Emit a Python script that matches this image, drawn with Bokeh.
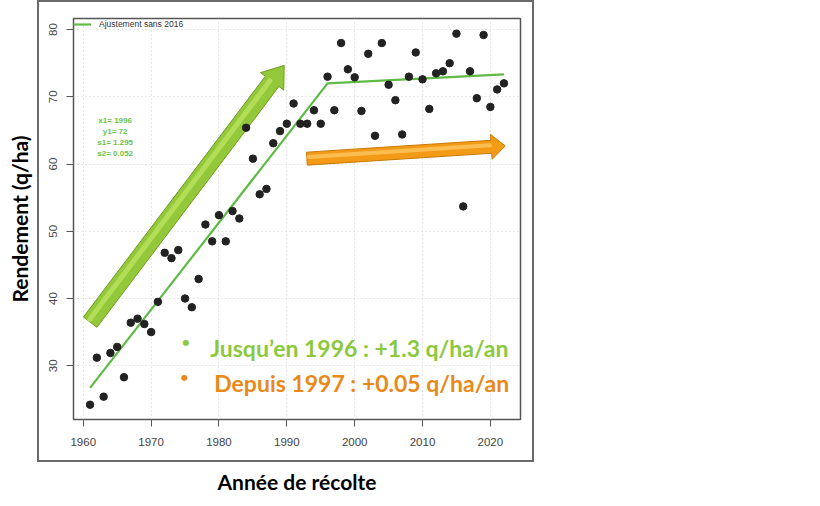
import math

from bokeh.embed import file_html
from bokeh.models import FixedTicker, InlineStyleSheet, Label, Legend, LegendItem
from bokeh.plotting import figure
from bokeh.resources import INLINE

# rendement annuel (q/ha) par année de récolte
years = [1961, 1962, 1963, 1964, 1965, 1966, 1967, 1968, 1969, 1970,
         1971, 1972, 1973, 1974, 1975, 1976, 1977, 1978, 1979, 1980,
         1981, 1982, 1983, 1984, 1985, 1986, 1987, 1988, 1989, 1990,
         1991, 1992, 1993, 1994, 1995, 1996, 1997, 1998, 1999, 2000,
         2001, 2002, 2003, 2004, 2005, 2006, 2007, 2008, 2009, 2010,
         2011, 2012, 2013, 2014, 2015, 2016, 2017, 2018, 2019, 2020,
         2021, 2022]
yields = [24.2, 31.2, 25.4, 31.9, 32.8, 28.3, 36.4, 37.0, 36.2, 35.0,
          39.5, 46.8, 46.0, 47.2, 40.0, 38.7, 42.9, 51.0, 48.5, 52.4,
          48.5, 53.0, 51.9, 65.4, 60.8, 55.5, 56.3, 63.1, 64.9, 66.0,
          69.0, 66.0, 66.0, 68.0, 66.0, 73.0, 68.0, 78.0, 74.1, 72.9,
          67.9, 76.4, 64.2, 78.0, 71.8, 69.5, 64.4, 73.0, 76.6, 72.6,
          68.2, 73.5, 73.8, 75.0, 79.4, 53.7, 73.8, 69.8, 79.2, 68.5,
          71.1, 72.0]

# ajustement segmenté (sans 2016)
fit_years = [1961, 1996, 2022]
fit_yields = [26.7, 72.0, 73.35]
fit_params = ["x1= 1996", "y1= 72", "s1= 1.295", "s2= 0.052"]

x_ticks = [1960, 1970, 1980, 1990, 2000, 2010, 2020]
y_ticks = [30, 40, 50, 60, 70, 80]

X0, X1 = 1958.56, 2024.44
Y0, Y1 = 22.0, 81.65
FW, FH = 447, 401
KX = FW / (X1 - X0)
KY = FH / (Y1 - Y0)

# cadre extérieur autour du graphique (calque CSS)
frame_css = InlineStyleSheet(css="""
:host::after {
  content: "";
  position: absolute;
  left: 36.5px;
  top: 0px;
  width: 497px;
  height: 462px;
  box-sizing: border-box;
  border: 2px solid #6a6a6a;
  pointer-events: none;
}
""")

p = figure(frame_width=FW, frame_height=FH, x_range=(X0, X1), y_range=(Y0, Y1),
           min_border_left=73, min_border_top=18, min_border_right=300,
           min_border_bottom=87, output_backend="svg", toolbar_location=None,
           stylesheets=[frame_css])

p.outline_line_color = "#555555"
p.outline_line_width = 1.5
p.background_fill_color = "white"
p.border_fill_color = "white"

for ax in (p.xaxis[0], p.yaxis[0]):
    ax.axis_line_color = None
    ax.major_tick_out = 7
    ax.major_tick_in = 0
    ax.minor_tick_line_color = None
    ax.major_tick_line_color = "#555555"
    ax.major_label_text_font = "Liberation Sans"
    ax.major_label_text_font_size = "11.5px"
    ax.major_label_text_color = "#444444"
    ax.axis_label_text_font = "Lato"
    ax.axis_label_text_font_style = "bold"
    ax.axis_label_text_font_size = "21px"
    ax.axis_label_text_color = "black"

p.xaxis.ticker = FixedTicker(ticks=x_ticks)
p.yaxis.ticker = FixedTicker(ticks=y_ticks)
p.yaxis.major_label_orientation = "vertical"
p.xaxis.major_label_standoff = 11
p.yaxis.major_label_standoff = 9
p.xaxis.axis_label = "Année de récolte"
p.yaxis.axis_label = "Rendement (q/ha)"
p.xaxis.axis_label_standoff = 20
p.yaxis.axis_label_standoff = 15

p.grid.grid_line_color = "#d0d0d0"
p.grid.grid_line_dash = "1 3"
p.grid.grid_line_width = 1


def arrow_poly(xa, ya, xb, yb, shaft, head_w, head_len):
    ax_, ay_ = (xa - X0) * KX, (ya - Y0) * KY
    bx_, by_ = (xb - X0) * KX, (yb - Y0) * KY
    L = math.hypot(bx_ - ax_, by_ - ay_)
    ux, uy = (bx_ - ax_) / L, (by_ - ay_) / L
    nx, ny = -uy, ux
    cx, cy = bx_ - ux * head_len, by_ - uy * head_len
    pts = [
        (ax_ + nx * shaft / 2, ay_ + ny * shaft / 2),
        (cx + nx * shaft / 2, cy + ny * shaft / 2),
        (cx + nx * head_w / 2, cy + ny * head_w / 2),
        (bx_, by_),
        (cx - nx * head_w / 2, cy - ny * head_w / 2),
        (cx - nx * shaft / 2, cy - ny * shaft / 2),
        (ax_ - nx * shaft / 2, ay_ - ny * shaft / 2),
    ]
    xs = [X0 + px / KX for px, _ in pts]
    ys = [Y0 + py / KY for _, py in pts]
    return xs, ys


def shaft_line(xa, ya, xb, yb, head_len, off):
    ax_, ay_ = (xa - X0) * KX, (ya - Y0) * KY
    bx_, by_ = (xb - X0) * KX, (yb - Y0) * KY
    L = math.hypot(bx_ - ax_, by_ - ay_)
    ux, uy = (bx_ - ax_) / L, (by_ - ay_) / L
    nx, ny = -uy, ux
    sx, sy = ax_ + nx * off + ux * 2, ay_ + ny * off + uy * 2
    ex, ey = bx_ - ux * (head_len + 1) + nx * off, by_ - uy * (head_len + 1) + ny * off
    return [X0 + sx / KX, X0 + ex / KX], [Y0 + sy / KY, Y0 + ey / KY]


# flèches décoratives
arrows = [
    ((1961.02, 36.48, 1989.61, 74.67), 17, 29, 20, "#92c83a", "#6f9a1e", "#b2dd57"),
    ((1992.96, 60.80, 2022.19, 62.70), 13, 25, 14, "#f39b17", "#c97a06", "#fbbd50"),
]
for (xa, ya, xb, yb), sw, hw, hl, fill, edge, light in arrows:
    xs, ys = arrow_poly(xa, ya, xb, yb, sw, hw, hl)
    p.patch(xs, ys, fill_color=fill, line_color=edge, line_width=1)
    lx, ly = shaft_line(xa, ya, xb, yb, hl, sw * 0.12)
    p.line(lx, ly, line_color=light, line_width=sw * 0.3, line_cap="round")

fit = p.line(fit_years, fit_yields, line_color="#5fbb46", line_width=2.2)
p.scatter(years, yields, size=7.5, fill_color="#222222", line_color="#222222")

legend = Legend(items=[LegendItem(label="Ajustement sans 2016", renderers=[fit])],
                location="top_left", margin=0, padding=6, border_line_color=None,
                background_fill_alpha=0, glyph_width=18, glyph_height=12,
                label_height=12, label_standoff=8,
                label_text_font="Liberation Sans", label_text_font_size="8.5px",
                label_text_color="#333333")
p.add_layout(legend)

for i, txt in enumerate(fit_params):
    p.add_layout(Label(x=1964.7, y=66.49 - i * 1.63, text=txt, text_align="center",
                       text_baseline="middle", text_font="Liberation Sans",
                       text_font_style="bold", text_font_size="8px",
                       text_color="#6cc24a"))

notes = [
    ("Jusqu’en 1996 : +1.3 q/ha/an", 1978.71, 32.62, 1975.1, "#8cc83c"),
    ("Depuis 1997 : +0.05 q/ha/an", 1979.30, 27.42, 1974.9, "#e8891a"),
]
for txt, tx, ty, bx, col in notes:
    p.add_layout(Label(x=tx, y=ty, text=txt, text_align="left",
                       text_baseline="alphabetic", text_font="Lato",
                       text_font_style="bold", text_font_size="23px", text_color=col))
    p.add_layout(Label(x=bx, y=ty + 1.0, text="•", text_align="center",
                       text_baseline="middle", text_font="Lato",
                       text_font_style="bold", text_font_size="14px", text_color=col))

open("out.html", "w").write(file_html(p, INLINE))
